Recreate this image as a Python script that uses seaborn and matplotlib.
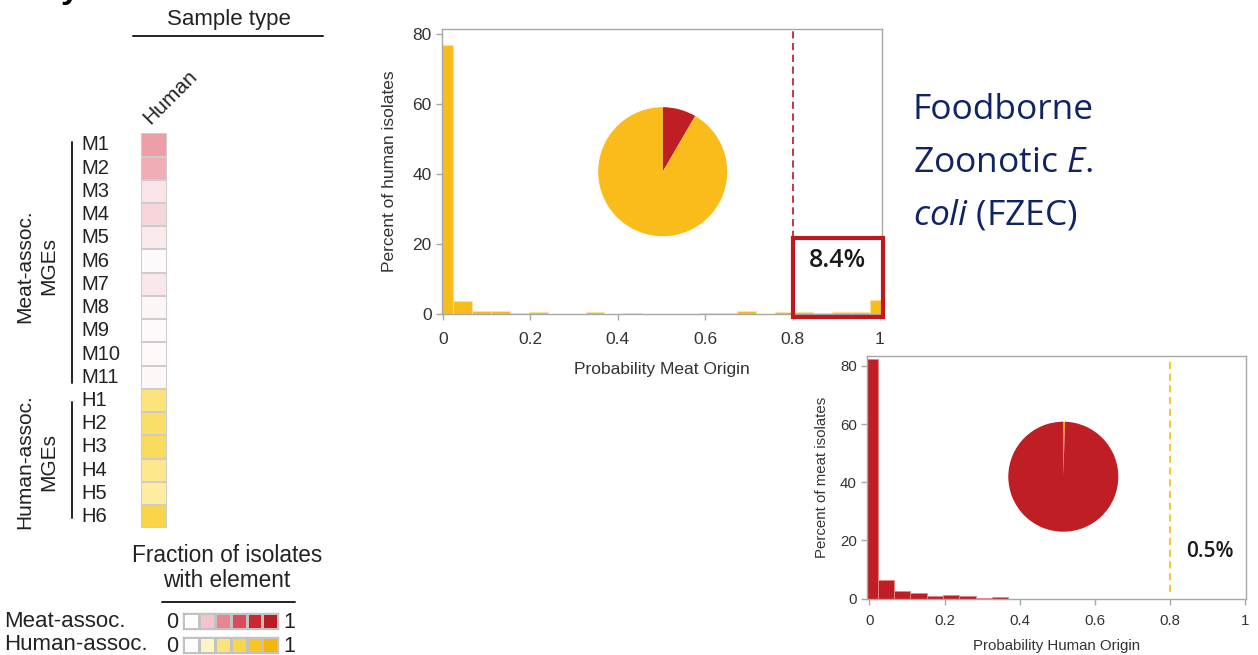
import numpy as np
import pandas as pd
import matplotlib
matplotlib.use("Agg")
import matplotlib.pyplot as plt
import seaborn as sns
from matplotlib.colors import LinearSegmentedColormap
from matplotlib.patches import Rectangle
from matplotlib.lines import Line2D

# ---------------- data ----------------
mge_meat = ["M1", "M2", "M3", "M4", "M5", "M6", "M7", "M8", "M9", "M10", "M11"]
meat_frac = [0.32, 0.27, 0.09, 0.14, 0.075, 0.02, 0.08, 0.035, 0.02, 0.025, 0.03]
mge_human = ["H1", "H2", "H3", "H4", "H5", "H6"]
human_frac = [0.40, 0.48, 0.52, 0.35, 0.30, 0.60]
sample_types = ["Human"]

legend_steps = [0.0, 0.2, 0.4, 0.6, 0.8, 1.0]
meat_colors = ["#ffffff", "#f4c3cb", "#e8868f", "#dc4b5b", "#cd2531", "#b91c23"]
human_colors = ["#fdfdfd", "#fff5c4", "#fce47c", "#fad54b", "#f8c624", "#f5b60c"]

# histogram bins (centres k/23)
bin_centers = np.arange(24) / 23
bin_edges = [(k - 0.5) / 23 for k in range(25)]
human_pct = [76.7, 3.7, 0.8, 0.8, 0.2, 0.5, 0.0, 0.0, 0.5, 0.0, 0.3, 0.0,
             0.1, 0.0, 0.3, 0.3, 0.95, 0.0, 0.65, 0.5, 0.3, 0.6, 0.45, 4.0]
meat_pct = [82.3, 6.3, 2.8, 2.1, 1.0, 1.1, 1.0, 0.4, 0.75, 0.0, 0.0, 0.0,
            0.0, 0.0, 0.0, 0.0, 0.0, 0.0, 0.0, 0.0, 0.0, 0.0, 0.0, 0.0]
threshold = 0.8
human_meat_share = 8.4    # % of human isolates with P(meat) > 0.8
meat_human_share = 0.5    # % of meat isolates with P(human) > 0.8

YELLOW = "#f9bc1a"
RED = "#bf1e25"
NAVY = "#102463"
TXT = "#222222"
GREY = "#a8a8a8"

# ---------------- style ----------------
sns.set_style("ticks")
plt.rcParams["font.family"] = ["Liberation Sans", "DejaVu Sans"]
plt.rcParams["mathtext.fontset"] = "custom"
plt.rcParams["mathtext.rm"] = "Open Sans"
plt.rcParams["mathtext.it"] = "Open Sans:italic"

W, H = 1258, 655
fig = plt.figure(figsize=(W / 100, H / 100), dpi=100)


def rect(l, t, r, b):
    return [l / W, 1 - b / H, (r - l) / W, (b - t) / H]


def fpt(x, y):
    return x / W, 1 - y / H


# panel heading (runs off the top edge)
fig.text(*fpt(61, -2), "y", ha="left", va="baseline", fontsize=24,
         fontweight="bold", color="black")

# ---------------- heatmap of MGE fractions ----------------
meat_cmap = LinearSegmentedColormap.from_list("meat", list(zip(legend_steps, meat_colors)))
human_cmap = LinearSegmentedColormap.from_list("human", list(zip(legend_steps, human_colors)))

df = pd.DataFrame({sample_types[0]: meat_frac + human_frac}, index=mge_meat + mge_human)
is_meat = np.array([True] * len(mge_meat) + [False] * len(mge_human))[:, None]

axh = fig.add_axes(rect(141.3, 133.3, 167.3, 528.3))
sns.heatmap(df, mask=~is_meat, cmap=meat_cmap, vmin=0, vmax=1, cbar=False,
            linewidths=1.2, linecolor="#cccccc", ax=axh)
sns.heatmap(df, mask=is_meat, cmap=human_cmap, vmin=0, vmax=1, cbar=False,
            linewidths=1.2, linecolor="#cccccc", ax=axh)
axh.set_yticks(np.arange(len(df)) + 0.5)
axh.set_yticklabels(df.index, rotation=0, ha="left", fontsize=14.5, color=TXT)
axh.tick_params(axis="y", length=0, pad=43)
axh.xaxis.tick_top()
axh.set_xticks([0.45])
axh.set_xticklabels(sample_types, rotation=45, ha="left", va="bottom",
                    rotation_mode="anchor", fontsize=15, color=TXT)
axh.tick_params(axis="x", length=0, pad=4)
axh.set_xlabel("")
axh.set_ylabel("")

fig.text(*fpt(229, 20), "Sample type", ha="center", va="center", fontsize=16, color=TXT)
fig.add_artist(Line2D([133 / W, 323 / W], [1 - 36 / H] * 2, color=TXT, lw=1.4))

# group brackets and labels
fig.add_artist(Line2D([71.7 / W] * 2, [1 - 141.7 / H, 1 - 383.3 / H], color=TXT, lw=1.4))
fig.add_artist(Line2D([71.7 / W] * 2, [1 - 401.7 / H, 1 - 518.3 / H], color=TXT, lw=1.4))
fig.text(*fpt(37, 266), "Meat-assoc.\nMGEs", rotation=90, ha="center", va="center",
         multialignment="center", fontsize=15, linespacing=1.3, color=TXT)
fig.text(*fpt(37, 462), "Human-assoc.\nMGEs", rotation=90, ha="center", va="center",
         multialignment="center", fontsize=15, linespacing=1.3, color=TXT)

# ---------------- colour key ----------------
fig.text(*fpt(227, 568), "Fraction of isolates\nwith element", ha="center", va="center",
         fontsize=16.3, linespacing=1.15, color=TXT)
fig.add_artist(Line2D([162 / W, 295 / W], [1 - 601.7 / H] * 2, color=TXT, lw=1.4))

key_rows = [("Meat-assoc.", meat_cmap, 613.3, 629.3),
            ("Human-assoc.", human_cmap, 637.3, 652.7)]
for name, cmap, top, bot in key_rows:
    axk = fig.add_axes(rect(183.3, top, 278.3, bot))
    sns.heatmap(np.array([legend_steps]), cmap=cmap, vmin=0, vmax=1, cbar=False,
                linewidths=0.9, linecolor="#c2c2c2", xticklabels=False,
                yticklabels=False, ax=axk)
    for s in axk.spines.values():
        s.set_visible(True)
        s.set_color("#c2c2c2")
        s.set_linewidth(1.0)
    mid = (top + bot) / 2
    fig.text(*fpt(172, mid + 1), "0", ha="center", va="center", fontsize=15.5, color=TXT)
    fig.text(*fpt(289, mid + 1), "1", ha="center", va="center", fontsize=15.5, color=TXT)
    fig.text(*fpt(4, mid), name, ha="left", va="center", fontsize=16, color=TXT)


# ---------------- histograms ----------------
def style_hist(ax, fs):
    for s in ax.spines.values():
        s.set_visible(True)
        s.set_color(GREY)
        s.set_linewidth(1.0)
    ax.set_xticks(np.arange(0, 1.01, 0.2))
    ax.set_xticklabels(["0", "0.2", "0.4", "0.6", "0.8", "1"])
    ax.set_yticks([0, 20, 40, 60, 80])
    ax.tick_params(axis="both", direction="out", length=4, width=1, color=GREY,
                   labelsize=fs, labelcolor="#333333")
    ax.grid(False)


hist_df = pd.DataFrame({"p": bin_centers, "human": human_pct, "meat": meat_pct})

# human isolates: probability of meat origin
ax1 = fig.add_axes(rect(442, 29, 882, 314))
sns.histplot(data=hist_df, x="p", weights="human", bins=bin_edges, color=YELLOW,
             alpha=1, edgecolor="#fbe3a0", linewidth=0.6, ax=ax1)
ax1.set_xlim(-0.0023, 1.0046)
ax1.set_ylim(0, 81.4)
style_hist(ax1, 12.5)
ax1.tick_params(axis="x", pad=9)
ax1.set_xlabel("Probability Meat Origin", fontsize=12.5, color="#333333", labelpad=11)
ax1.set_ylabel("Percent of human isolates", fontsize=12.5, color="#333333", labelpad=11)
ax1.vlines(threshold, 21.7, 81.4, colors="#c0282d", linestyles=(0, (4, 2.5)), lw=1.3)
ax1.add_patch(Rectangle((threshold + 0.001, -0.86), 0.205, 22.56, fill=False,
                        edgecolor="#c0181f", lw=3, clip_on=False, zorder=5))
ax1.text(0.9016, 15.4, f"{human_meat_share}%", ha="center", va="center",
         fontsize=18, family="Open Sans", fontweight="semibold", color="#1a1a1a")

axp1 = fig.add_axes(rect(598.2, 107.2, 727.2, 236.2))
axp1.pie([human_meat_share, 100 - human_meat_share], colors=[RED, YELLOW],
         startangle=90, counterclock=False, wedgeprops=dict(linewidth=0))
axp1.set_xlim(-1, 1)
axp1.set_ylim(-1, 1)

# meat isolates: probability of human origin
ax2 = fig.add_axes(rect(866.7, 355.7, 1246, 598.7))
sns.histplot(data=hist_df, x="p", weights="meat", bins=bin_edges, color=RED,
             alpha=1, edgecolor="#e58585", linewidth=0.6, ax=ax2)
ax2.set_xlim(-0.007, 1.002)
ax2.set_ylim(0, 83.5)
style_hist(ax2, 10.8)
ax2.tick_params(axis="x", pad=7)
ax2.tick_params(axis="y", pad=3)
ax2.set_xlabel("Probability Human Origin", fontsize=10.8, color="#333333", labelpad=8)
ax2.set_ylabel("Percent of meat isolates", fontsize=10.8, color="#333333", labelpad=8)
ax2.vlines(threshold, 2.4, 83.5, colors="#f5c518", linestyles=(0, (4, 2.5)), lw=1.3)
ax2.text(0.907, 16.2, f"{meat_human_share}%", ha="center", va="center",
         fontsize=15, family="Open Sans", fontweight="semibold", color="#1a1a1a")

axp2 = fig.add_axes(rect(1008.3, 421.7, 1118.3, 531.7))
axp2.pie([meat_human_share, 100 - meat_human_share], colors=["#f7b51c", RED],
         startangle=90, counterclock=False, wedgeprops=dict(linewidth=0))
axp2.set_xlim(-1, 1)
axp2.set_ylim(-1, 1)

# ---------------- title text ----------------
title_lines = ["Foodborne", r"Zoonotic $\mathit{E.}$", r"$\mathit{coli}$ (FZEC)"]
for i, line in enumerate(title_lines):
    fig.text(*fpt(913, 119 + 53 * i), line, ha="left", va="baseline",
             fontsize=25.5, family="Open Sans", color=NAVY)

fig.savefig("out.png", dpi=100)
